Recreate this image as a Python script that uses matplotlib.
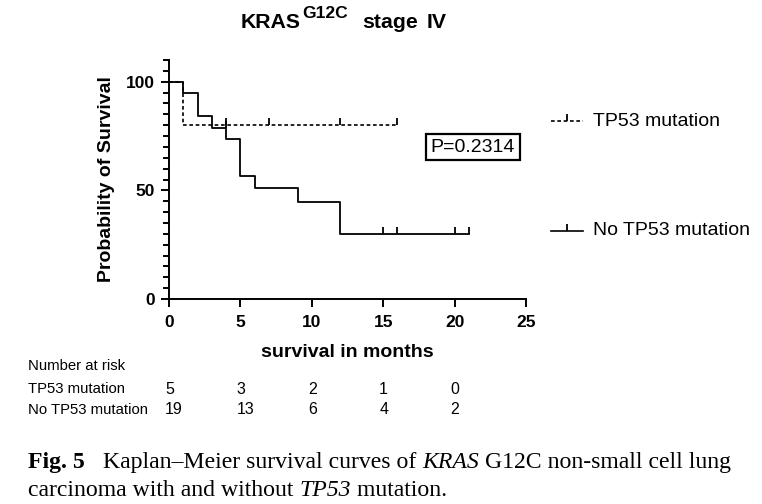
import matplotlib
matplotlib.use("Agg")
import matplotlib.pyplot as plt
from matplotlib.lines import Line2D
from matplotlib.ticker import MultipleLocator

plt.rcParams['font.family'] = ['Liberation Sans', 'DejaVu Sans']

# Kaplan-Meier steps (months, % surviving)
tp53_t = [0, 1, 16]
tp53_s = [100, 80, 80]
tp53_cens_t = [4, 7, 12, 16]
tp53_cens_s = [80, 80, 80, 80]

no_t = [0, 1, 2, 3, 4, 5, 6, 9, 12, 21]
no_s = [100, 94.7, 84.2, 78.9, 73.7, 56.7, 51.0, 44.6, 29.7, 29.7]
no_cens_t = [4, 15, 16, 20, 21]
no_cens_s = [78.9, 29.7, 29.7, 29.7, 29.7]

risk_times = [0, 5, 10, 15, 20]
risk_tp53 = [5, 3, 2, 1, 0]
risk_no = [19, 13, 6, 4, 2]
p_value = "P=0.2314"

W, H = 762, 504
fig = plt.figure(figsize=(W / 100, H / 100), dpi=100)
ax = fig.add_axes([169 / W, 1 - 299 / H, (526 - 169) / W, (299 - 60) / H])

dash = (0, (2.2, 1.6))
ax.step(tp53_t, tp53_s, where='post', color='black', lw=1.2, ls=dash)
ax.plot(tp53_cens_t, tp53_cens_s, ls='none', marker=2, ms=5, mew=1.3, color='black')
ax.step(no_t, no_s, where='post', color='black', lw=1.3)
ax.plot(no_cens_t, no_cens_s, ls='none', marker=2, ms=5, mew=1.3, color='black')

ax.set_xlim(0, 25)
ax.set_ylim(0, 110)
ax.set_xticks([0, 5, 10, 15, 20, 25])
ax.set_yticks([0, 50, 100])
ax.yaxis.set_minor_locator(MultipleLocator(5))
for s in ['top', 'right']:
    ax.spines[s].set_visible(False)
for s in ['left', 'bottom']:
    ax.spines[s].set_linewidth(1.4)
ax.tick_params(axis='both', which='major', length=6, width=1.4, labelsize=12.5, pad=4)
ax.tick_params(axis='x', which='major', pad=5.5)
ax.tick_params(axis='y', which='minor', length=4, width=1.4)
for lab in ax.get_xticklabels() + ax.get_yticklabels():
    lab.set_fontweight('bold')
ax.set_xlabel('survival in months', fontsize=14, fontweight='bold', labelpad=10)
ax.set_ylabel('Probability of Survival', fontsize=14, fontweight='bold', labelpad=8)

# p-value box
fig.text(473 / W, 1 - 147 / H, p_value, fontsize=14, ha='center', va='center',
         bbox=dict(boxstyle='square,pad=0.25', fc='white', ec='black', lw=1.6))

# legend drawn by hand
def legend_entry(y, label, dashed):
    yy = 1 - y / H
    ln = Line2D([551 / W, 567 / W, 583 / W], [yy, yy, yy], transform=fig.transFigure,
                color='black', lw=1.2, ls=dash if dashed else '-',
                marker=2, ms=5, mew=1.3, markevery=[1])
    fig.add_artist(ln)
    fig.text(593 / W, yy, label, fontsize=14, va='center')

legend_entry(121, 'TP53 mutation', True)
legend_entry(231, 'No TP53 mutation', False)

# number at risk table
tfs = 10.7
fig.text(28 / W, 1 - 366 / H, 'Number at risk', fontsize=tfs, va='center')
fig.text(28 / W, 1 - 389 / H, 'TP53 mutation', fontsize=tfs, va='center')
fig.text(28 / W, 1 - 410 / H, 'No TP53 mutation', fontsize=tfs, va='center')
for t, a, b in zip(risk_times, risk_tp53, risk_no):
    xf = ax.transData.transform((t, 0))[0] / W - 4 / W
    fig.text(xf, 1 - 389 / H, str(a), fontsize=11.5, va='center')
    fig.text(xf, 1 - 410 / H, str(b), fontsize=11.5, va='center')

# title
fig.text(241 / W, 1 - 28.5 / H, 'KRAS', fontsize=15.3, fontweight='bold', va='baseline')
fig.text(302 / W, 1 - 18.5 / H, 'G12C', fontsize=12.5, fontweight='bold', va='baseline')
fig.text(362 / W, 1 - 28.5 / H, 'stage', fontsize=15.3, fontweight='bold', va='baseline')
fig.text(427 / W, 1 - 28.5 / H, 'IV', fontsize=15.3, fontweight='bold', va='baseline')

# caption, made of several runs
renderer = fig.canvas.get_renderer()

def runs(x, y, parts, **kw):
    for s, props in parts:
        p = dict(kw)
        p.update(props)
        t = fig.text(x, y, s, va='baseline', **p)
        bb = t.get_window_extent(renderer=renderer)
        x += bb.width / W

serif = ['Liberation Serif', 'DejaVu Serif']
runs(28 / W, 1 - 468 / H, [
    ('Fig. 5', dict(fontweight='bold')),
    ('   Kaplan\u2013Meier survival curves of ', {}),
    ('KRAS', dict(style='italic')),
    (' G12C non-small cell lung', {}),
], family=serif, fontsize=17.1)
runs(28 / W, 1 - 495.5 / H, [
    ('carcinoma with and without ', {}),
    ('TP53', dict(style='italic')),
    (' mutation.', {}),
], family=serif, fontsize=17.1)

fig.savefig('out.png', dpi=100)
